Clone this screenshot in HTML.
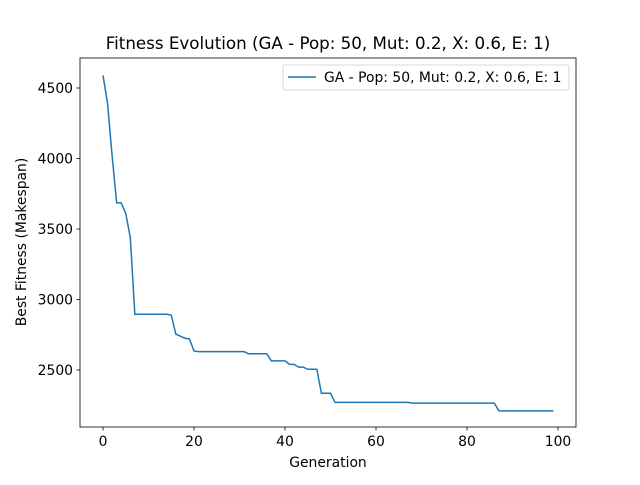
<!DOCTYPE html>
<html><head><meta charset="utf-8"><style>
body{margin:0;background:#fff;font-family:"Liberation Sans","DejaVu Sans",sans-serif}
svg text{font-family:"DejaVu Sans","Liberation Sans",sans-serif}
</style></head><body>
<svg id="chart" width="640" height="480">
<rect width="640" height="480" fill="#fff"/>
<g id="plot"></g>
</svg>
<script>
const generations = Array.from({length:100},(_,i)=>i);
const fitness = [4590,4390,4020,3685,3685,3610,3440,2895,2895,2895,2895,2895,2895,2895,2895,2890,2755,2740,2725,2720,
2635,2630,2630,2630,2630,2630,2630,2630,2630,2630,2630,2630,2615,2615,2615,2615,2615,2565,2565,2565,
2565,2540,2540,2520,2520,2505,2505,2505,2335,2335,2335,2270,2270,2270,2270,2270,2270,2270,2270,2270,
2270,2270,2270,2270,2270,2270,2270,2270,2265,2265,2265,2265,2265,2265,2265,2265,2265,2265,2265,2265,
2265,2265,2265,2265,2265,2265,2265,2210,2210,2210,2210,2210,2210,2210,2210,2210,2210,2210,2210,2210];
const xTicks = [0,20,40,60,80,100];
const yTicks = [2500,3000,3500,4000,4500];
const NS='http://www.w3.org/2000/svg';
const L=80,R=576,T=58,B=427;
const xs=v=>103+(v)*4.55;
const ys=v=>370-(v-2500)*0.141;
const g=document.getElementById('plot');
function mk(t,a,txt){const e=document.createElementNS(NS,t);for(const k in a)e.setAttribute(k,a[k]);if(txt!==undefined)e.textContent=txt;g.appendChild(e);return e;}
let line=mk('polyline',{points:generations.map((x,i)=>xs(x)+','+ys(fitness[i])).join(' '),fill:'none',stroke:'#1f77b4','stroke-width':1.5});


let fr=mk('rect',{x:L,y:T,width:R-L,height:B-T,fill:'none',stroke:'#000','stroke-width':0.8});


xTicks.forEach(t=>{const x=xs(t);mk('line',{x1:x,x2:x,y1:B,y2:B+3.5,stroke:'#000','stroke-width':0.8});
let e=mk('text',{x:x,y:B+19,'font-size':13.9,'text-anchor':'middle'},t);

});
yTicks.forEach(t=>{const y=ys(t);mk('line',{x1:L,x2:L-3.5,y1:y,y2:y,stroke:'#000','stroke-width':0.8});
let e=mk('text',{x:L-7,y:y+5,'font-size':13.9,'text-anchor':'end'},t);

});
let tt=mk('text',{x:328,y:49,'font-size':16.7,'text-anchor':'middle'},'Fitness Evolution (GA - Pop: 50, Mut: 0.2, X: 0.6, E: 1)');


let xl=mk('text',{x:328,y:467,'font-size':13.9,'text-anchor':'middle'},'Generation');


let yl=mk('text',{x:0,y:0,'font-size':13.9,'text-anchor':'middle',transform:'translate(26,242) rotate(-90)'},'Best Fitness (Makespan)');


let lg=mk('rect',{x:283,y:65,width:286,height:25,rx:2,fill:'#fff',stroke:'#ccc','stroke-width':0.8});


mk('line',{x1:288,x2:316,y1:77,y2:77,stroke:'#1f77b4','stroke-width':1.5});
let lt=mk('text',{x:324,y:82,'font-size':13.9},'GA - Pop: 50, Mut: 0.2, X: 0.6, E: 1');


</script>
</body></html>
